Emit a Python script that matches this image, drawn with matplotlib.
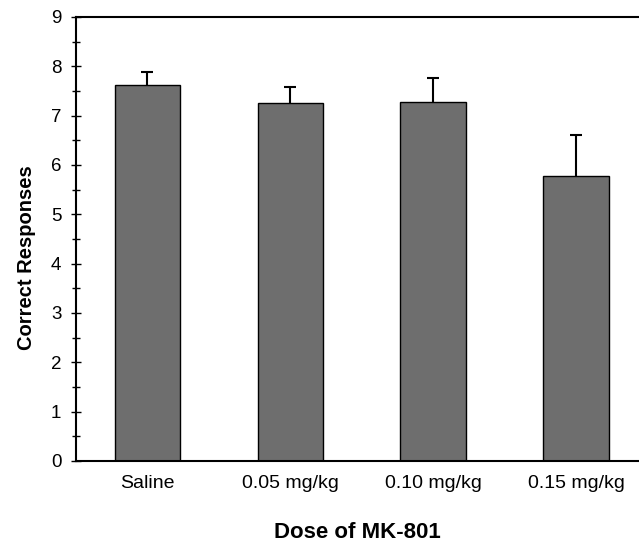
import numpy as np
import matplotlib
matplotlib.use('Agg')
import matplotlib.pyplot as plt
from matplotlib.ticker import MultipleLocator

plt.rcParams['font.family'] = ['Liberation Sans', 'DejaVu Sans']

# Data
doses = ['Saline', '0.05 mg/kg', '0.10 mg/kg', '0.15 mg/kg']
correct = [7.62, 7.26, 7.27, 5.78]
sem = [0.27, 0.32, 0.49, 0.83]

fig = plt.figure(figsize=(6.39, 5.46), dpi=100)
ax = fig.add_axes([0.119, 0.1557, 0.881, 0.8132])

x = np.arange(len(doses))
ax.bar(x, correct, width=0.46, color='#6e6e6e', edgecolor='black', linewidth=1.0, zorder=2)
eb = ax.errorbar(x, correct, yerr=[np.zeros(len(sem)), sem], fmt='none',
                 ecolor='black', elinewidth=1.5, capsize=4, capthick=1.5, zorder=3)
# only the upper cap is drawn in the original
eb[1][0].set_visible(False)

ax.set_xlim(-0.5, 3.44)
ax.set_ylim(0, 9)
ax.yaxis.set_major_locator(MultipleLocator(1))
ax.yaxis.set_minor_locator(MultipleLocator(0.5))
ax.set_xticks(x)
ax.set_xticklabels(doses)

ax.tick_params(axis='y', which='major', direction='inout', length=7, width=1.0,
               labelsize=13.5, pad=7)
ax.tick_params(axis='y', which='minor', direction='inout', length=6, width=1.0)
ax.tick_params(axis='x', length=0, labelsize=14, pad=10)

for side in ['left', 'top', 'bottom']:
    ax.spines[side].set_linewidth(1.5)
ax.spines['right'].set_visible(False)

ax.set_ylabel('Correct Responses', fontsize=14.5, fontweight='bold')
ax.yaxis.set_label_coords(-0.072, 0.457)
ax.set_xlabel('Dose of MK-801', fontsize=16, fontweight='bold', labelpad=22)

fig.savefig('out.png', dpi=100)
